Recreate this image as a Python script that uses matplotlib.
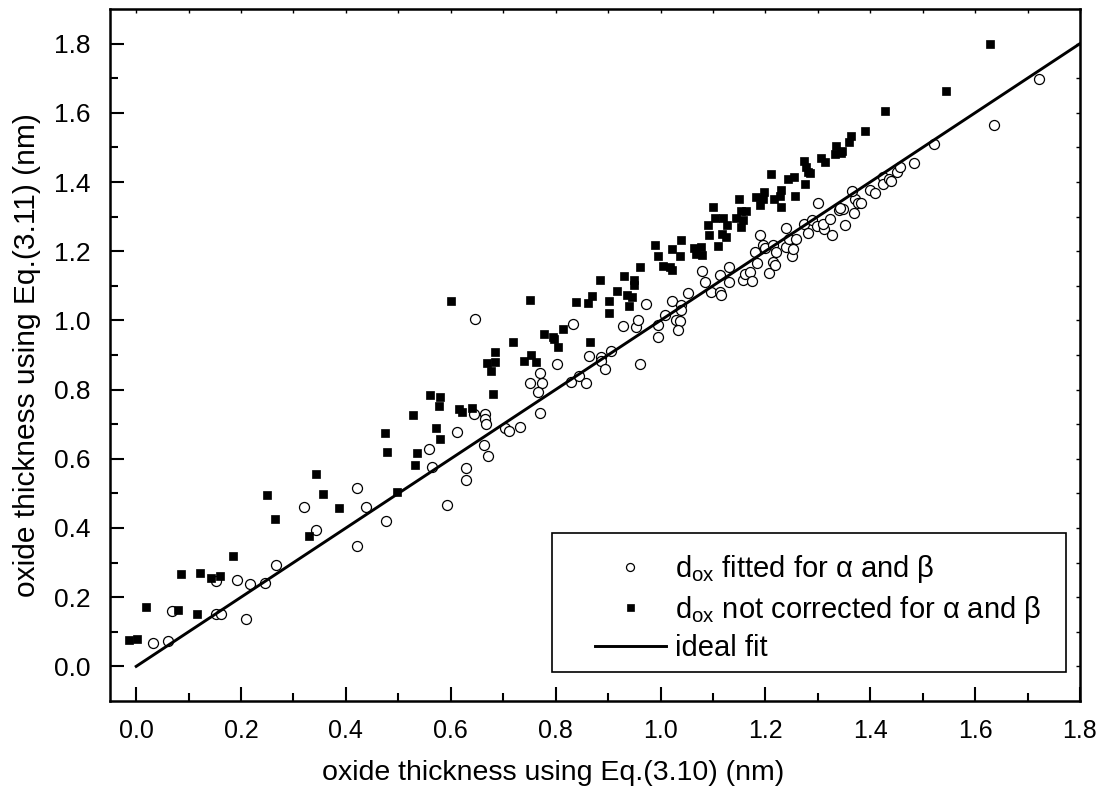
import numpy as np
import matplotlib
matplotlib.use('Agg')
import matplotlib.pyplot as plt
from matplotlib.patches import Rectangle

plt.rcParams['font.family'] = ['Liberation Sans', 'DejaVu Sans']
plt.rcParams['mathtext.fontset'] = 'custom'
plt.rcParams['mathtext.rm'] = 'Liberation Sans'

# d_ox fitted for alpha and beta (open circles)
fit_x = [0.032, 0.060, 0.069, 0.153, 0.152, 0.161, 0.192, 0.210, 0.218, 0.245,
         0.267, 0.320, 0.343, 0.421, 0.439, 0.422, 0.476, 0.558, 0.564, 0.592,
         0.647, 0.612, 0.629, 0.629, 0.644, 0.666, 0.666, 0.668, 0.663, 0.671,
         0.704, 0.711, 0.732, 0.751, 0.770, 0.774, 0.767, 0.770, 0.803, 0.834,
         0.830, 0.844, 0.857, 0.864, 0.886, 0.886, 0.894, 0.906, 0.928, 0.954,
         0.958, 0.960, 0.972, 0.995, 0.995, 1.009, 1.022, 1.030, 1.037, 1.034,
         1.040, 1.040, 1.053, 1.080, 1.085, 1.097, 1.113, 1.113, 1.115, 1.130,
         1.130, 1.157, 1.162, 1.170, 1.174, 1.184, 1.181, 1.189, 1.195, 1.199,
         1.206, 1.214, 1.219, 1.214, 1.220, 1.239, 1.250, 1.252, 1.245, 1.259,
         1.240, 1.273, 1.282, 1.288, 1.298, 1.312, 1.310, 1.323, 1.328, 1.340,
         1.348, 1.342, 1.300, 1.352, 1.369, 1.371, 1.365, 1.377, 1.383, 1.400,
         1.409, 1.425, 1.425, 1.436, 1.439, 1.452, 1.457, 1.484, 1.522, 1.637,
         1.722]
fit_y = [0.068, 0.074, 0.160, 0.247, 0.152, 0.152, 0.249, 0.137, 0.237, 0.241,
         0.293, 0.461, 0.394, 0.515, 0.461, 0.348, 0.421, 0.627, 0.575, 0.466,
         1.003, 0.676, 0.572, 0.538, 0.730, 0.729, 0.714, 0.701, 0.641, 0.609,
         0.690, 0.681, 0.693, 0.818, 0.849, 0.818, 0.794, 0.731, 0.875, 0.991,
         0.821, 0.839, 0.818, 0.897, 0.895, 0.883, 0.860, 0.912, 0.984, 0.980,
         1.001, 0.875, 1.046, 0.988, 0.953, 1.015, 1.056, 1.001, 0.997, 0.971,
         1.044, 1.030, 1.080, 1.143, 1.111, 1.083, 1.131, 1.082, 1.072, 1.155,
         1.110, 1.117, 1.134, 1.139, 1.115, 1.167, 1.197, 1.247, 1.217, 1.210,
         1.136, 1.168, 1.161, 1.217, 1.198, 1.212, 1.187, 1.206, 1.234, 1.235,
         1.268, 1.278, 1.253, 1.289, 1.272, 1.263, 1.278, 1.292, 1.247, 1.318,
         1.323, 1.326, 1.338, 1.277, 1.309, 1.352, 1.374, 1.340, 1.339, 1.378,
         1.369, 1.414, 1.393, 1.410, 1.403, 1.428, 1.443, 1.455, 1.510, 1.566,
         1.698]

# d_ox not corrected for alpha and beta (filled squares)
raw_x = [-0.013, 0.001, 0.019, 0.086, 0.079, 0.122, 0.116, 0.142, 0.159, 0.184,
         0.249, 0.264, 0.343, 0.356, 0.329, 0.386, 0.475, 0.479, 0.498, 0.527,
         0.536, 0.532, 0.560, 0.580, 0.578, 0.571, 0.579,
         0.601, 0.752, 0.615, 0.622, 0.640, 0.669, 0.684, 0.685, 0.677, 0.680,
         0.718, 0.739, 0.753, 0.763, 0.777, 0.794, 0.796, 0.805, 0.814, 0.839,
         0.861, 0.870, 0.866, 0.884, 0.902, 0.901, 0.917, 0.931, 0.937, 0.945,
         0.939, 0.949, 0.949, 0.961, 0.990, 0.995, 1.005, 1.019, 1.021, 1.022,
         1.037, 1.040, 1.063, 1.067, 1.078, 1.079,
         1.090, 1.092, 1.101, 1.104, 1.120, 1.126, 1.118, 1.125, 1.109, 1.144,
         1.154, 1.164, 1.158, 1.154, 1.149, 1.183, 1.189, 1.197, 1.196, 1.217,
         1.228, 1.230, 1.230, 1.257, 1.211, 1.244, 1.254, 1.275, 1.273, 1.277,
         1.282, 1.286, 1.307, 1.314, 1.332, 1.344, 1.334, 1.347, 1.364, 1.360,
         1.390, 1.429, 1.544, 1.628]
raw_y = [0.075, 0.080, 0.173, 0.267, 0.164, 0.269, 0.151, 0.256, 0.262, 0.319,
         0.496, 0.426, 0.556, 0.499, 0.378, 0.457, 0.675, 0.619, 0.505, 0.727,
         0.616, 0.582, 0.785, 0.780, 0.754, 0.690, 0.657,
         1.056, 1.059, 0.743, 0.735, 0.746, 0.877, 0.880, 0.909, 0.854, 0.787,
         0.937, 0.882, 0.900, 0.879, 0.962, 0.951, 0.945, 0.922, 0.975, 1.052,
         1.049, 1.070, 0.939, 1.117, 1.056, 1.021, 1.084, 1.128, 1.074, 1.068,
         1.041, 1.116, 1.103, 1.153, 1.218, 1.187, 1.156, 1.155, 1.145, 1.207,
         1.187, 1.232, 1.208, 1.193, 1.212, 1.188,
         1.276, 1.248, 1.328, 1.297, 1.297, 1.275, 1.249, 1.241, 1.215, 1.295,
         1.316, 1.316, 1.289, 1.270, 1.350, 1.357, 1.335, 1.371, 1.350, 1.352,
         1.361, 1.376, 1.328, 1.361, 1.424, 1.408, 1.414, 1.395, 1.462, 1.443,
         1.429, 1.426, 1.470, 1.459, 1.482, 1.485, 1.503, 1.491, 1.532, 1.517,
         1.548, 1.604, 1.664, 1.799]

ideal = [0.0, 1.8]

fig = plt.figure(figsize=(11.02, 7.99), dpi=100)
ax = fig.add_axes([0.0998, 0.1227, 0.8802, 0.866])

ax.plot(fit_x, fit_y, 'o', ms=7.2, mfc='white', mec='black', mew=0.9,
        label='d$_{\\mathregular{ox}}$ fitted for \u03b1 and \u03b2')
ax.plot(raw_x, raw_y, 's', ms=6.3, mfc='black', mec='black', mew=0.5,
        label='d$_{\\mathregular{ox}}$ not corrected for \u03b1 and \u03b2')
ax.plot(ideal, ideal, '-', color='black', lw=2.1, label='ideal fit')

ax.set_xlim(-0.05, 1.8)
ax.set_ylim(-0.1, 1.9)
ax.set_xticks(np.arange(0, 1.81, 0.2))
ax.set_yticks(np.arange(0, 1.81, 0.2))
ax.set_xticks(np.arange(0.1, 1.8, 0.2), minor=True)
ax.set_yticks(np.arange(0.1, 1.8, 0.2), minor=True)
ax.xaxis.set_major_formatter(matplotlib.ticker.FormatStrFormatter('%.1f'))
ax.yaxis.set_major_formatter(matplotlib.ticker.FormatStrFormatter('%.1f'))
ax.tick_params(which='major', direction='in', length=10, width=1.5)
ax.tick_params(which='minor', direction='in', length=6, width=1.5)
ax.tick_params(axis='y', labelsize=19, pad=14)
ax.tick_params(axis='x', labelsize=18, pad=13)
for s in ax.spines.values():
    s.set_linewidth(1.8)

# short ticks on top and right
top = ax.secondary_xaxis('top')
top.set_xticks(np.arange(0, 1.81, 0.1))
top.tick_params(direction='in', length=3, width=1, labeltop=False)
right = ax.secondary_yaxis('right')
right.set_yticks(np.arange(0, 1.81, 0.1))
right.tick_params(direction='in', length=3, width=1, labelright=False)

ax.set_xlabel('oxide thickness using Eq.(3.10) (nm)', fontsize=20.5)
ax.xaxis.set_label_coords(0.457, -0.086)
ax.set_ylabel('oxide thickness using Eq.(3.11) (nm)', fontsize=21.5, labelpad=9)

# legend frame drawn as a plain box, entries placed inside it
ax.add_patch(Rectangle((0.456, 0.0419), 0.53, 0.2009, transform=ax.transAxes,
                       fill=True, facecolor='white', edgecolor='black', lw=1.2, zorder=4))
leg = ax.legend(loc='upper left', bbox_to_anchor=(0.5, 0.214), borderaxespad=0,
                borderpad=0, frameon=False, fontsize=21, handlelength=2.43,
                handletextpad=0.3, labelspacing=0.3, markerscale=0.8)
leg.set_zorder(5)

fig.savefig('out.png', dpi=100)
